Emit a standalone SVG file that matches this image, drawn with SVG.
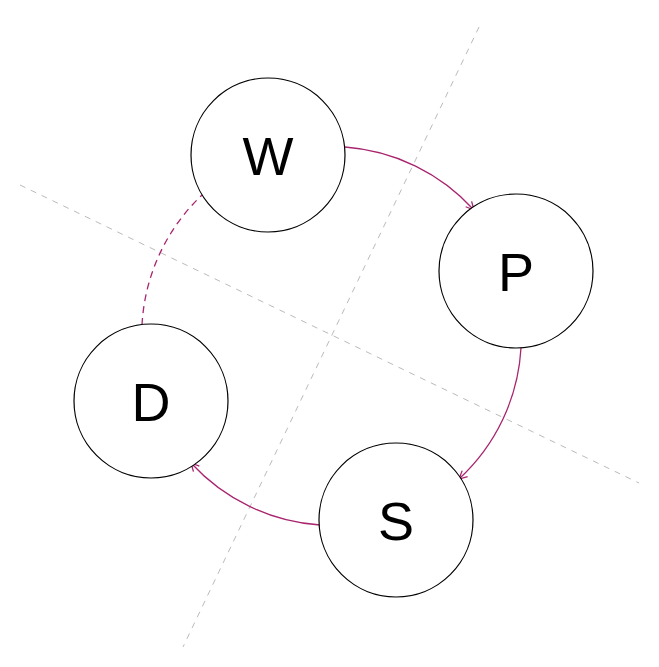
<svg xmlns="http://www.w3.org/2000/svg" width="659" height="667" viewBox="0 0 659 667">
<style>
.node circle{fill:#fff;stroke:#000;stroke-width:1.2}
.node text{font-family:"Liberation Sans",Arial,sans-serif;font-size:54px;fill:#000;text-anchor:middle}
.axis{stroke:#bbb;stroke-width:1;stroke-dasharray:6,6;fill:none}
.edge{stroke:#a8246e;stroke-width:1.3;fill:none}
.dash{stroke-dasharray:7,5}
</style>
<defs>
<marker id="arr" markerUnits="userSpaceOnUse" markerWidth="12" markerHeight="12" refX="9" refY="5" orient="auto">
<path d="M1,1 L9,5 L1,9" fill="none" stroke="#a8246e" stroke-width="1.3"/>
</marker>
</defs>
<g id="axes">
<line class="axis" x1="479" y1="27" x2="183" y2="647"/>
<line class="axis" x1="20" y1="185" x2="639" y2="483"/>
</g>
<g id="connectors">
<path class="edge" d="M345,147 A193,193 0 0,1 474,210" marker-end="url(#arr)"/>
<path class="edge" d="M521,348 A193,193 0 0,1 459,479" marker-end="url(#arr)"/>
<path class="edge" d="M320,525 A193,193 0 0,1 191,463" marker-end="url(#arr)"/>
<path class="edge dash" d="M142,325 A193,193 0 0,1 202,195"/>
</g>
<g id="W" class="node"><circle cx="268" cy="155" r="77"/><text x="268" y="175">W</text></g>
<g id="P" class="node"><circle cx="516" cy="271" r="77"/><text x="516" y="291">P</text></g>
<g id="S" class="node"><circle cx="396" cy="520" r="77"/><text x="396" y="540">S</text></g>
<g id="D" class="node"><circle cx="151" cy="401" r="77"/><text x="151" y="421">D</text></g>
</svg>
